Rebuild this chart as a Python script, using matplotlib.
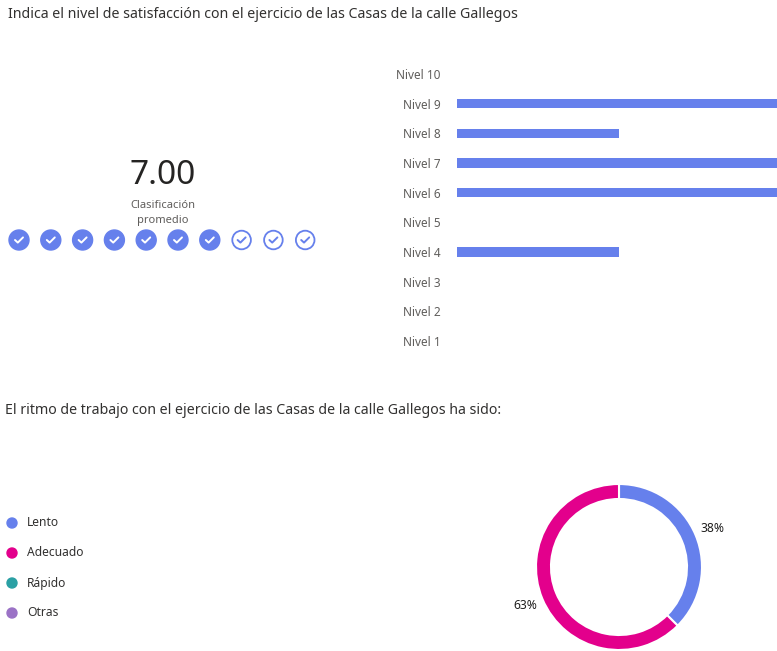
import matplotlib
matplotlib.use('Agg')
import matplotlib.pyplot as plt
from matplotlib.patches import Circle

plt.rcParams['font.family'] = ['Noto Sans', 'DejaVu Sans']

titulo_1 = 'Indica el nivel de satisfacción con el ejercicio de las Casas de la calle Gallegos'
niveles = ['Nivel 10', 'Nivel 9', 'Nivel 8', 'Nivel 7', 'Nivel 6',
           'Nivel 5', 'Nivel 4', 'Nivel 3', 'Nivel 2', 'Nivel 1']
respuestas = [0, 2, 1, 2, 2, 0, 1, 0, 0, 0]
promedio = 7.00

titulo_2 = 'El ritmo de trabajo con el ejercicio de las Casas de la calle Gallegos ha sido:'
ritmo = ['Lento', 'Adecuado', 'Rápido', 'Otras']
ritmo_n = [3, 5, 0, 0]
ritmo_colores = ['#6680ec', '#e3008c', '#2aa0a4', '#9b72c6']

azul = '#6680ec'
texto = '#323130'
gris = '#605e5c'

W, H = 777, 651
fig = plt.figure(figsize=(W / 100, H / 100), dpi=100)

# pixel-coordinate layer for texts and rating circles
base = fig.add_axes([0, 0, 1, 1])
base.set_xlim(0, W)
base.set_ylim(H, 0)
base.axis('off')

base.text(8, 15, titulo_1, fontsize=10.2, color=texto, va='center', ha='left')
base.text(163, 176, '%.2f' % promedio, fontsize=24, color='#252423', va='center', ha='center')
base.text(163, 205, 'Clasificación', fontsize=8, color=gris, va='center', ha='center')
base.text(163, 221, 'promedio', fontsize=8, color=gris, va='center', ha='center')

llenos = int(round(promedio))
for i in range(10):
    cx, cy = 19 + i * 31.8, 240
    if i < llenos:
        base.add_patch(Circle((cx, cy), 10, color=azul))
        ck = 'white'
    else:
        base.add_patch(Circle((cx, cy), 9.3, facecolor='white', edgecolor=azul, lw=1.3))
        ck = azul
    base.plot([cx - 4, cx - 1.2, cx + 4], [cy, cy + 2.6, cy - 2.6], color=ck, lw=1.4,
              solid_capstyle='round', solid_joinstyle='round')

base.text(5, 411, titulo_2, fontsize=10.2, color=texto, va='center', ha='left')
for i, (r, c) in enumerate(zip(ritmo, ritmo_colores)):
    y = 523 + i * 30
    base.add_patch(Circle((12, y), 5, color=c))
    base.text(27, y, r, fontsize=8.7, color=texto, va='center', ha='left')

# bar chart of levels
ax = fig.add_axes([457 / W, 1 - 356 / H, 320 / W, 297 / H])
ypos = list(range(len(niveles)))
ax.barh(ypos, respuestas, height=0.31, color=azul)
ax.set_ylim(len(niveles) - 0.5, -0.5)
ax.set_xlim(0, 320 / 162)
ax.set_yticks(ypos)
ax.set_yticklabels(niveles, fontsize=8.5, color=gris)
ax.tick_params(axis='y', length=0, pad=12)
ax.set_xticks([])
for s in ax.spines.values():
    s.set_visible(False)
ax.patch.set_alpha(0)

# donut
r = 83
ax2 = fig.add_axes([(619 - r) / W, 1 - (567 + r) / H, 2 * r / W, 2 * r / H])
total = sum(ritmo_n)
vals = [v for v in ritmo_n if v > 0]
cols = [c for v, c in zip(ritmo_n, ritmo_colores) if v > 0]
labs = ['%d%%' % int(100 * v / total + 0.5) for v in vals]
wedges, txts = ax2.pie(vals, colors=cols, startangle=90, counterclock=False,
                       labels=labs, labeldistance=1.22,
                       wedgeprops=dict(width=15 / r, edgecolor='white', linewidth=1.5),
                       textprops=dict(fontsize=8.7, color='#201f1e', fontweight='semibold'))
for t in txts:
    t.set_ha('center')
ax2.set_xlim(-1, 1)
ax2.set_ylim(-1, 1)
ax2.set_aspect('equal')

fig.savefig('out.png', dpi=100)
